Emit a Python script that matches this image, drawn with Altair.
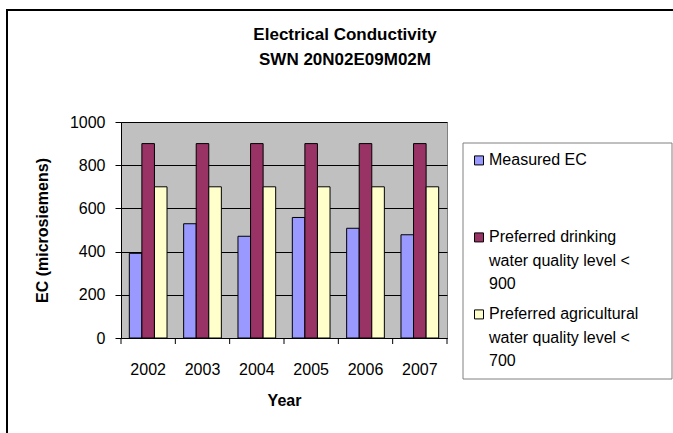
import altair as alt
import pandas as pd

years = ["2002", "2003", "2004", "2005", "2006", "2007"]
measured = [392, 529, 471, 558, 508, 478]
drinking = [900, 900, 900, 900, 900, 900]
agricultural = [700, 700, 700, 700, 700, 700]
series = [
    "Measured EC",
    "Preferred drinking water quality level < 900",
    "Preferred agricultural water quality level < 700",
]
legend_lines = [
    ["Measured EC", "", ""],
    ["Preferred drinking", "water quality level <", "900"],
    ["Preferred agricultural", "water quality level <", "700"],
]
colors = ["#9999FF", "#993366", "#FFFFCC"]
title_lines = ["Electrical Conductivity", "SWN 20N02E09M02M"]
y_ticks = [0, 200, 400, 600, 800, 1000]

rows = []
for s, vals in zip(series, [measured, drinking, agricultural]):
    for yr, v in zip(years, vals):
        rows.append({"Year": yr, "Series": s, "EC": v})
df = pd.DataFrame(rows)
year_df = pd.DataFrame({"Year": years})
last_year_df = pd.DataFrame({"Year": years[-1:]})

# legend label expression -> multi-line labels
expr = "''"
for s, lines in reversed(list(zip(series, legend_lines))):
    arr = "[" + ",".join("'" + l.replace("'", "\\'") + "'" for l in lines) + "]"
    expr = f"datum.label == '{s}' ? {arr} : ({expr})"

FONT = "Liberation Sans"
STEP = 326 / 6
HALF_GAP = STEP * 0.306 / 2

x_axis = alt.Axis(
    title="Year",
    labelAngle=0,
    ticks=False,
    labelPadding=23,
    titleX=163,
    titleY=62,
    titleBaseline="middle",
)

# legend frame (decoration, drawn behind the legend entries)
frame = alt.Chart(alt.Data(values=[{"k": 1}])).mark_rect(
    fill="white", stroke="#808080", strokeWidth=1
).encode(
    x=alt.value(342), x2=alt.value(551), y=alt.value(21), y2=alt.value(257)
)

bars = alt.Chart(df).mark_bar(stroke="black", strokeWidth=1).encode(
    x=alt.X(
        "Year:N",
        sort=years,
        scale=alt.Scale(paddingInner=0.306, paddingOuter=0.153),
        axis=x_axis,
    ),
    xOffset=alt.XOffset("Series:N", sort=series,
                        scale=alt.Scale(paddingInner=0, paddingOuter=0)),
    y=alt.Y(
        "EC:Q",
        scale=alt.Scale(domain=[0, 1000], nice=False),
        axis=alt.Axis(
            values=y_ticks,
            format="d",
            title="EC (microsiemens)",
            grid=True,
            gridColor="black",
            gridOpacity=1,
            tickSize=6,
            labelPadding=10,
            titleX=-79,
            titleY=108,
            titleBaseline="middle",
        ),
    ),
    color=alt.Color(
        "Series:N",
        sort=series,
        scale=alt.Scale(domain=series, range=colors),
        legend=alt.Legend(
            title=None,
            orient="none",
            legendX=342,
            legendY=14,
            labelExpr=expr,
            labelBaseline="top",
            labelFont=FONT,
            labelFontSize=16,
            labelColor="black",
            labelLimit=400,
            labelOffset=2,
            symbolType="M-1,0.87H1V2.87H-1Z",
            symbolSize=81,
            symbolStrokeColor="black",
            symbolStrokeWidth=1,
            symbolOffset=0,
            rowPadding=6,
            padding=8,
        ),
    ),
)

# category-boundary tick marks below the x axis
ticks_start = alt.Chart(year_df).mark_rule(
    color="black", strokeWidth=1, xOffset=-HALF_GAP
).encode(
    x=alt.X("Year:N", sort=years, bandPosition=0, axis=x_axis),
    y=alt.value(216), y2=alt.value(222),
)
ticks_end = alt.Chart(last_year_df).mark_rule(
    color="black", strokeWidth=1, xOffset=HALF_GAP
).encode(
    x=alt.X("Year:N", sort=years, bandPosition=1, axis=x_axis),
    y=alt.value(216), y2=alt.value(222),
)

border = alt.Chart(alt.Data(values=[{"k": 1}])).mark_rect(
    fillOpacity=0, stroke="black", strokeWidth=2
).encode(
    x=alt.value(-114), x2=alt.value(800), y=alt.value(-112), y2=alt.value(600)
)

title = alt.Chart(alt.Data(values=[{"k": 1}])).mark_text(
    font=FONT, fontSize=17, fontWeight="bold", baseline="top", align="center",
    lineHeight=25.3, color="black"
).encode(
    x=alt.value(224), y=alt.value(-95), text=alt.value(title_lines)
)

chart = alt.layer(frame, bars, ticks_start, ticks_end, border, title).properties(
    width=326,
    height=216,
    autosize=alt.AutoSizeParams(type="none"),
    padding={"left": 121, "top": 122, "right": 226, "bottom": 95},
    background="white",
).configure_view(
    fill="#C0C0C0", stroke="#808080", strokeWidth=1
).configure_axis(
    labelFont=FONT, labelFontSize=16, labelColor="black",
    titleFont=FONT, titleFontSize=16, titleFontWeight="bold", titleColor="black",
    domainColor="black", tickColor="black", domainWidth=1,
).configure_axisX(grid=False)

chart.config.style = {"guide-label": {"lineHeight": 23.5}}

chart.save("out.html", embed_options={"renderer": "svg", "actions": False})
